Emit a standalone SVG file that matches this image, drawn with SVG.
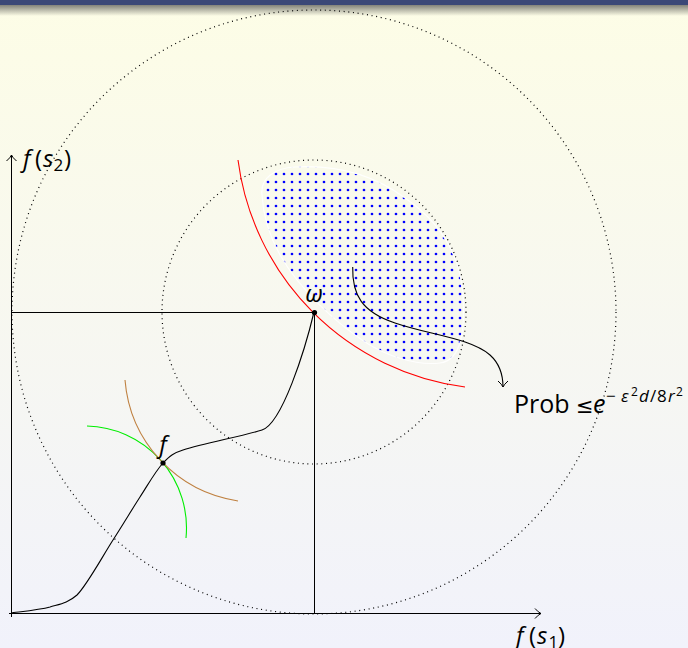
<svg xmlns="http://www.w3.org/2000/svg" width="688" height="648" viewBox="0 0 688 648">
<defs>
<linearGradient id="bg" x1="0" y1="0" x2="0" y2="1">
<stop offset="0" stop-color="#fdfde6"/>
<stop offset="1" stop-color="#f1f2fb"/>
</linearGradient>
<linearGradient id="shadow" x1="0" y1="0" x2="0" y2="1">
<stop offset="0" stop-color="#5a5a55" stop-opacity="0.75"/>
<stop offset="1" stop-color="#5a5a55" stop-opacity="0"/>
</linearGradient>
<pattern id="dots" patternUnits="userSpaceOnUse" x="0" y="0" width="8" height="8">
<circle cx="4" cy="6" r="1.35" fill="#0000ff"/>
</pattern>
<marker id="to" markerUnits="userSpaceOnUse" markerWidth="14" markerHeight="14" refX="11" refY="7" orient="auto">
<path d="M5,2 Q8.5,6 11,7 Q8.5,8 5,12" fill="none" stroke="#000" stroke-width="1"/>
</marker>
<style>
.ax{stroke:#000;stroke-width:1;fill:none}
.dotc{stroke:#000;stroke-width:1.2;fill:none;stroke-dasharray:1 3.7}
.crv{fill:none;stroke-width:1.1}
.lbl{font-family:"Open Sans","DejaVu Sans",sans-serif;font-size:24px;fill:#000}
.it{font-style:italic}
</style>
</defs>
<rect width="688" height="648" fill="url(#bg)"/>
<rect width="688" height="5" fill="#3b4877"/>
<rect y="5" width="688" height="11" fill="url(#shadow)"/>

<g id="region">
<path d="M262,195 C260,178 275,168 295,167 C330,165 370,172 405,198 C440,222 460,255 463,295 C465,330 462,360 440,363 C415,366 385,355 365,342 C335,322 300,290 280,255 C270,237 263,215 262,195 Z" fill="url(#dots)" stroke="#ffffff" stroke-width="1.2" stroke-opacity="0.9"/>
</g>

<g id="circles">
<circle class="dotc" cx="314" cy="312" r="302"/>
<circle class="dotc" cx="314" cy="312" r="152"/>
</g>

<g id="axes">
<line class="ax" x1="11.5" y1="617" x2="11.5" y2="155" marker-end="url(#to)"/>
<line class="ax" x1="9" y1="613.5" x2="541" y2="613.5" marker-end="url(#to)"/>
<line class="ax" x1="11.5" y1="312.5" x2="314.5" y2="312.5"/>
<line class="ax" x1="314.5" y1="312.5" x2="314.5" y2="613.5"/>
</g>

<g id="connectors">
<path class="crv" stroke="#ff0000" d="M238,160 A263,263 0 0,0 465,387"/>
<path class="crv" stroke="#00ee00" d="M87,426 A102,102 0 0,1 186,538"/>
<path class="crv" stroke="#bf8040" d="M125,380 A133,133 0 0,0 238,501"/>
<path class="crv" stroke="#000" stroke-width="1.3" d="M11,613 C17.5,612 39,610 50,607 C60,604 68,603 77,595 C87,585 102.5,556.3 113,540 C123.5,523.7 131.7,509.8 140,497 C148.3,484.2 155.8,470.8 163,463 C170.2,455.2 174,452.9 183,450 C205,443 242,436.4 262,430 C282,423.6 305,350 314,312"/>
<path class="crv" stroke="#000" d="M352.7,267 C352,295 362,312 395,323 C430,335 470,338 490,355 C500,364 503,375 503,387" marker-end="url(#to)"/>
</g>

<g id="points">
<circle cx="314.5" cy="312.5" r="2.6" fill="#000"/>
<circle cx="163" cy="463" r="2.6" fill="#000"/>
</g>

<g id="labels" class="lbl">
<text y="167"><tspan x="23" class="it">f</tspan><tspan x="35">(</tspan><tspan x="43" class="it">s</tspan><tspan x="53.5" font-size="17" dy="4">2</tspan><tspan x="64" dy="-4">)</tspan></text>
<text y="644"><tspan x="516" class="it">f</tspan><tspan x="529">(</tspan><tspan x="537" class="it">s</tspan><tspan x="548.5" font-size="17" dy="4">1</tspan><tspan x="558" dy="-4">)</tspan></text>
<text x="314" y="302" text-anchor="middle" class="it">ω</text>
<text x="163" y="453" text-anchor="middle" class="it">f</text>
<text y="413" font-size="25"><tspan x="514">Prob</tspan><tspan x="576" font-family="DejaVu Sans" font-size="21">≤</tspan><tspan x="593" class="it">e</tspan><tspan x="606" font-size="17" dy="-11">−</tspan><tspan x="621" font-size="17" class="it">ε</tspan><tspan x="631" font-size="12" dy="-6">2</tspan><tspan x="639" font-size="17" class="it" dy="6">d</tspan><tspan x="650" font-size="17">/</tspan><tspan x="657" font-size="17">8</tspan><tspan x="668" font-size="17" class="it">r</tspan><tspan x="676" font-size="12" dy="-6">2</tspan></text>
</g>
</svg>
